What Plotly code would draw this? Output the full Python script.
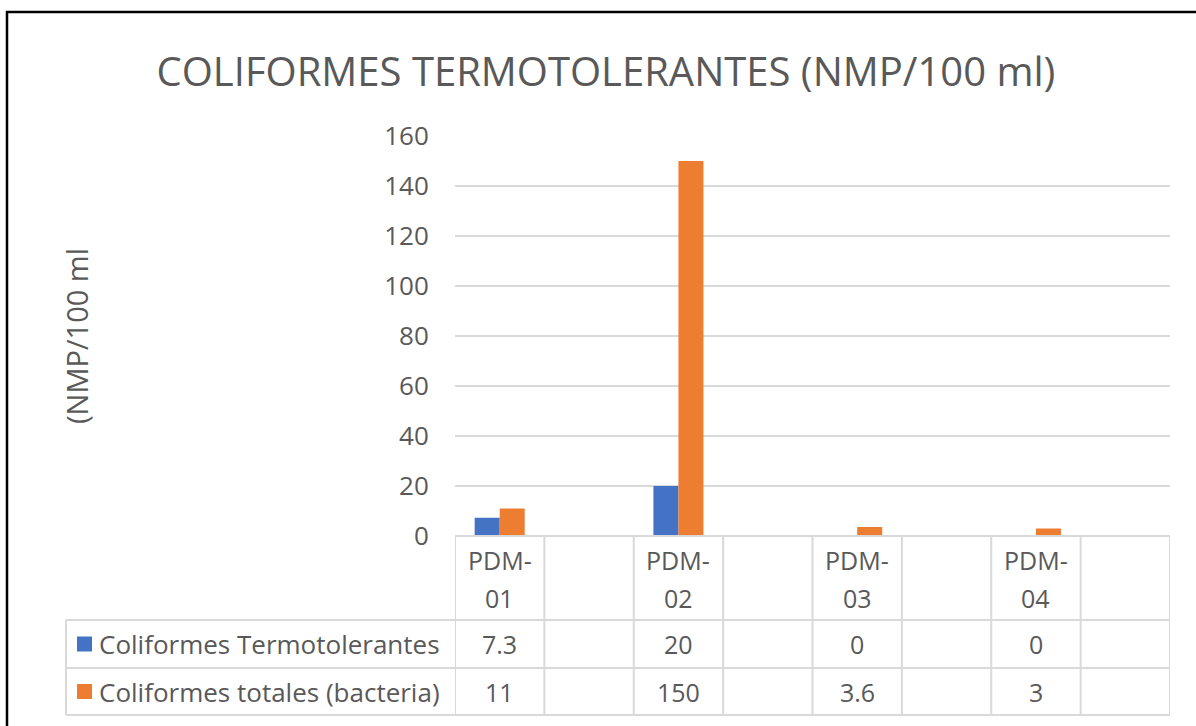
import plotly.graph_objects as go

# ---- data ----
categories = ["PDM-01", "", "PDM-02", "", "PDM-03", "", "PDM-04", ""]
series_names = ["Coliformes Termotolerantes", "Coliformes totales (bacteria)"]
termotolerantes = [7.3, None, 20, None, 0, None, 0, None]
totales = [11, None, 150, None, 3.6, None, 3, None]
y_ticks = [0, 20, 40, 60, 80, 100, 120, 140, 160]
title_text = "COLIFORMES TERMOTOLERANTES (NMP/100 ml)"
y_title = "(NMP/100 ml"

colors = ["#4472C4", "#ED7D31"]
text_color = "#595959"
grid_color = "#D9D9D9"
FONT = "Open Sans"

W, H = 1196, 726
L, R, T, B = 455, 26, 136, 190
plot_w = W - L - R
plot_h = H - T - B


def px_to_paper_x(px):
    return (px - L) / plot_w


def px_to_paper_y(py):
    return (H - B - py) / plot_h


xs = list(range(len(categories)))
series_values = [termotolerantes, totales]

fig = go.Figure()
for name, vals, col in zip(series_names, series_values, colors):
    fig.add_trace(go.Bar(x=xs, y=vals, name=name, marker=dict(color=col, line=dict(width=0)),
                         showlegend=False))

shapes = []
annotations = []

# table geometry (pixel rows)
row_top = 536
row_cat = 620
row_s1 = 668
row_s2 = 715
table_left = 66

line_style = dict(color=grid_color, width=2)

# horizontal lines
for py, x0 in [(row_top, px_to_paper_x(L)), (row_cat, px_to_paper_x(table_left)),
               (row_s1, px_to_paper_x(table_left)), (row_s2, px_to_paper_x(table_left))]:
    shapes.append(dict(type="line", xref="paper", yref="paper", x0=x0, x1=1,
                       y0=px_to_paper_y(py), y1=px_to_paper_y(py), line=line_style, layer="above"))
# vertical lines in data area
for i in range(len(categories) + 1):
    shapes.append(dict(type="line", xref="x", yref="paper", x0=i - 0.5, x1=i - 0.5,
                       y0=px_to_paper_y(row_top), y1=px_to_paper_y(row_s2), line=line_style))
# left edge of legend column
shapes.append(dict(type="line", xref="paper", yref="paper", x0=px_to_paper_x(table_left),
                   x1=px_to_paper_x(table_left), y0=px_to_paper_y(row_cat),
                   y1=px_to_paper_y(row_s2), line=line_style))

tfont = dict(family=FONT, size=25, color=text_color)
lfont = dict(family=FONT, size=26, color=text_color)

# category labels (two lines)
for i, c in enumerate(categories):
    if not c:
        continue
    a, b = c.split("-", 1)
    annotations.append(dict(x=i, y=px_to_paper_y(560), xref="x", yref="paper", text=a + "-",
                            showarrow=False, font=tfont, xanchor="center", yanchor="middle"))
    annotations.append(dict(x=i, y=px_to_paper_y(598), xref="x", yref="paper", text=b,
                            showarrow=False, font=tfont, xanchor="center", yanchor="middle"))

# value rows + legend keys
row_centers = [(row_cat + row_s1) / 2, (row_s1 + row_s2) / 2]
for name, vals, col, yc in zip(series_names, series_values, colors, row_centers):
    for i, v in enumerate(vals):
        if v is None:
            continue
        annotations.append(dict(x=i, y=px_to_paper_y(yc), xref="x", yref="paper",
                                text=f"{v:g}", showarrow=False, font=tfont,
                                xanchor="center", yanchor="middle"))
    annotations.append(dict(x=px_to_paper_x(97), y=px_to_paper_y(yc), xref="paper", yref="paper",
                            text=name, showarrow=False, font=lfont,
                            xanchor="left", yanchor="middle"))
    shapes.append(dict(type="rect", xref="paper", yref="paper",
                       x0=px_to_paper_x(77), x1=px_to_paper_x(92),
                       y0=px_to_paper_y(yc - 7.5), y1=px_to_paper_y(yc + 7.5),
                       fillcolor=col, line=dict(width=0)))

# y axis title
annotations.append(dict(x=px_to_paper_x(76), y=0.5, xref="paper", yref="paper", text=y_title,
                        textangle=-90, showarrow=False,
                        font=dict(family=FONT, size=29, color=text_color),
                        xanchor="center", yanchor="middle"))

# outer chart border (left and top visible)
shapes.append(dict(type="rect", xref="paper", yref="paper",
                   x0=px_to_paper_x(7), x1=px_to_paper_x(W + 20),
                   y0=px_to_paper_y(12), y1=px_to_paper_y(H + 20),
                   line=dict(color="black", width=2.5), fillcolor="rgba(0,0,0,0)"))

fig.update_layout(
    width=W, height=H,
    margin=dict(l=L, r=R, t=T, b=B),
    paper_bgcolor="white", plot_bgcolor="white",
    barmode="group", bargap=0.44, bargroupgap=0,
    title=dict(text=title_text, xref="container", x=606 / W, xanchor="center",
               yref="container", y=1 - 72 / H, yanchor="middle",
               font=dict(family=FONT, size=40, color=text_color)),
    xaxis=dict(range=[-0.5, len(categories) - 0.5], showticklabels=False, showgrid=False,
               zeroline=False, showline=False, ticks=""),
    yaxis=dict(range=[0, 160], tickvals=y_ticks, showgrid=True, gridcolor=grid_color,
               gridwidth=2, zeroline=False, showline=False, ticks="outside", ticklen=20,
               tickcolor="rgba(0,0,0,0)",
               tickfont=dict(family=FONT, size=26, color=text_color)),
    shapes=shapes, annotations=annotations,
)

fig.write_html("out.html", config={"displayModeBar": False},
               post_script="document.body.style.margin='0px';")
